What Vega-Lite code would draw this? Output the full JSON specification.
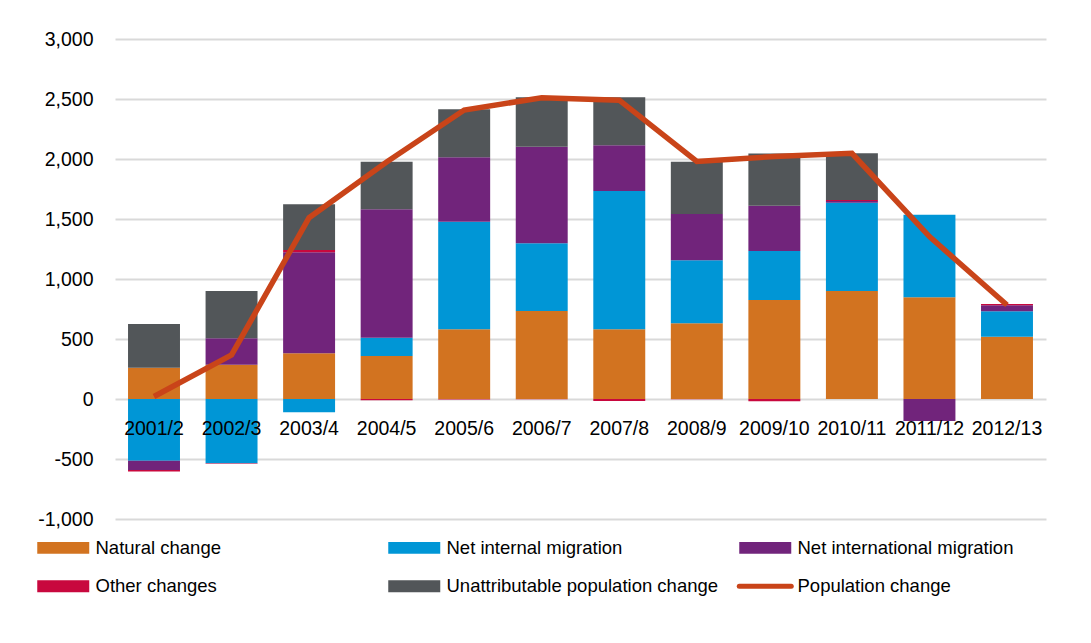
{
  "$schema": "https://vega.github.io/schema/vega-lite/v6.json",
  "width": 931,
  "height": 480,
  "autosize": {"type": "none"},
  "padding": {"left": 115, "top": 39, "right": 45, "bottom": 124},
  "background": "white",
  "config": {"view": {"stroke": null}, "font": "Liberation Sans"},
  "datasets": {
    "components": [
      {"year": "2001/2", "series": "Natural change", "value": 261},
      {"year": "2001/2", "series": "Net internal migration", "value": -514},
      {"year": "2001/2", "series": "Net international migration", "value": -78},
      {"year": "2001/2", "series": "Other changes", "value": -12},
      {"year": "2001/2", "series": "Unattributable population change", "value": 364},
      {"year": "2002/3", "series": "Natural change", "value": 286},
      {"year": "2002/3", "series": "Net internal migration", "value": -536},
      {"year": "2002/3", "series": "Net international migration", "value": 220},
      {"year": "2002/3", "series": "Other changes", "value": -3},
      {"year": "2002/3", "series": "Unattributable population change", "value": 394},
      {"year": "2003/4", "series": "Natural change", "value": 381},
      {"year": "2003/4", "series": "Net internal migration", "value": -111},
      {"year": "2003/4", "series": "Net international migration", "value": 841},
      {"year": "2003/4", "series": "Other changes", "value": 19},
      {"year": "2003/4", "series": "Unattributable population change", "value": 381},
      {"year": "2004/5", "series": "Natural change", "value": 358},
      {"year": "2004/5", "series": "Net internal migration", "value": 153},
      {"year": "2004/5", "series": "Net international migration", "value": 1070},
      {"year": "2004/5", "series": "Other changes", "value": -10},
      {"year": "2004/5", "series": "Unattributable population change", "value": 397},
      {"year": "2005/6", "series": "Natural change", "value": 581},
      {"year": "2005/6", "series": "Net internal migration", "value": 897},
      {"year": "2005/6", "series": "Net international migration", "value": 536},
      {"year": "2005/6", "series": "Other changes", "value": -4},
      {"year": "2005/6", "series": "Unattributable population change", "value": 400},
      {"year": "2006/7", "series": "Natural change", "value": 733},
      {"year": "2006/7", "series": "Net internal migration", "value": 564},
      {"year": "2006/7", "series": "Net international migration", "value": 806},
      {"year": "2006/7", "series": "Other changes", "value": -3},
      {"year": "2006/7", "series": "Unattributable population change", "value": 411},
      {"year": "2007/8", "series": "Natural change", "value": 581},
      {"year": "2007/8", "series": "Net internal migration", "value": 1152},
      {"year": "2007/8", "series": "Net international migration", "value": 381},
      {"year": "2007/8", "series": "Other changes", "value": -17},
      {"year": "2007/8", "series": "Unattributable population change", "value": 400},
      {"year": "2008/9", "series": "Natural change", "value": 631},
      {"year": "2008/9", "series": "Net internal migration", "value": 525},
      {"year": "2008/9", "series": "Net international migration", "value": 386},
      {"year": "2008/9", "series": "Other changes", "value": -3},
      {"year": "2008/9", "series": "Unattributable population change", "value": 436},
      {"year": "2009/10", "series": "Natural change", "value": 825},
      {"year": "2009/10", "series": "Net internal migration", "value": 408},
      {"year": "2009/10", "series": "Net international migration", "value": 378},
      {"year": "2009/10", "series": "Other changes", "value": -19},
      {"year": "2009/10", "series": "Unattributable population change", "value": 435},
      {"year": "2010/11", "series": "Natural change", "value": 900},
      {"year": "2010/11", "series": "Net internal migration", "value": 736},
      {"year": "2010/11", "series": "Net international migration", "value": 15},
      {"year": "2010/11", "series": "Other changes", "value": 8},
      {"year": "2010/11", "series": "Unattributable population change", "value": 388},
      {"year": "2011/12", "series": "Natural change", "value": 847},
      {"year": "2011/12", "series": "Net internal migration", "value": 689},
      {"year": "2011/12", "series": "Net international migration", "value": -183},
      {"year": "2011/12", "series": "Other changes", "value": 0},
      {"year": "2011/12", "series": "Unattributable population change", "value": 0},
      {"year": "2012/13", "series": "Natural change", "value": 519},
      {"year": "2012/13", "series": "Net internal migration", "value": 212},
      {"year": "2012/13", "series": "Net international migration", "value": 50},
      {"year": "2012/13", "series": "Other changes", "value": 11},
      {"year": "2012/13", "series": "Unattributable population change", "value": 0}
    ],
    "total": [
      {"year": "2001/2", "change": 21},
      {"year": "2002/3", "change": 367},
      {"year": "2003/4", "change": 1511},
      {"year": "2004/5", "change": 1975},
      {"year": "2005/6", "change": 2408},
      {"year": "2006/7", "change": 2510},
      {"year": "2007/8", "change": 2490},
      {"year": "2008/9", "change": 1980},
      {"year": "2009/10", "change": 2020},
      {"year": "2010/11", "change": 2047},
      {"year": "2011/12", "change": 1353},
      {"year": "2012/13", "change": 783}
    ]
  },
  "layer": [
    {
      "data": {"name": "components"},
      "mark": {"type": "bar"},
      "encoding": {
        "x": {"field": "year", "type": "nominal", "sort": null, "scale": {"paddingInner": 0.33, "paddingOuter": 0.168}, "axis": null},
        "y": {"field": "value", "type": "quantitative", "stack": "zero",
              "scale": {"domain": [-1000, 3000], "nice": false, "zero": false},
              "axis": {"title": null, "values": [-1000, -500, 0, 500, 1000, 1500, 2000, 2500, 3000], "labelExpr": "replace(format(datum.value, ',.0f'), '\u2212', '-')", "labelFontSize": 19.5, "labelColor": "black", "domain": false, "ticks": false, "labelPadding": 22, "gridColor": "#D9D9D9", "gridWidth": 2}},
        "order": {"field": "series", "sort": "ascending"},
        "color": {"field": "series", "type": "nominal",
          "scale": {"domain": ["Natural change", "Net internal migration", "Net international migration", "Other changes", "Unattributable population change", "Population change"],
                    "range": ["#D27320", "#0096D6", "#71247B", "#C8083E", "#525659", "#C94419"]},
          "legend": {"orient": "none", "legendX": -61, "legendY": 499, "direction": "horizontal", "columns": 3, "gridAlign": "all", "columnPadding": 10, "rowPadding": 18, "symbolSize": 2704, "symbolType": "M-1,-0.23H1V0.23H-1Z", "labelFontSize": 18.5, "labelOffset": 23, "labelColor": "black", "labelLimit": 400, "title": null, "symbolOpacity": 1,
            "encode": {"symbols": {"update": {
              "shape": {"signal": "datum.value === 'Population change' ? 'M-1,0H1' : 'M-1,-0.23H1V0.23H-1Z'"},
              "fill": {"signal": "datum.value === 'Population change' ? 'transparent' : scale('color', datum.value)"},
              "stroke": {"signal": "datum.value === 'Population change' ? scale('color', datum.value) : 'transparent'"},
              "strokeWidth": {"signal": "datum.value === 'Population change' ? 5 : 0"},
              "strokeCap": {"value": "round"},
              "opacity": {"value": 1}
            }}}}
        }
      }
    },
    {
      "data": {"name": "total"},
      "mark": {"type": "line", "strokeWidth": 5.5},
      "encoding": {
        "x": {"field": "year", "type": "nominal", "sort": null, "axis": null},
        "y": {"field": "change", "type": "quantitative",
              "axis": {"title": null, "values": [-1000, -500, 0, 500, 1000, 1500, 2000, 2500, 3000], "labelExpr": "replace(format(datum.value, ',.0f'), '\u2212', '-')", "labelFontSize": 19.5, "labelColor": "black", "domain": false, "ticks": false, "labelPadding": 22, "gridColor": "#D9D9D9", "gridWidth": 2}},
        "color": {"datum": "Population change"}
      }
    },
    {
      "data": {"name": "total"},
      "mark": {"type": "text", "baseline": "middle", "align": "center", "dy": 29.5, "fontSize": 19.5, "color": "black"},
      "encoding": {
        "x": {"field": "year", "type": "nominal", "sort": null, "axis": null},
        "y": {"datum": 0},
        "text": {"field": "year"}
      }
    }
  ]
}
